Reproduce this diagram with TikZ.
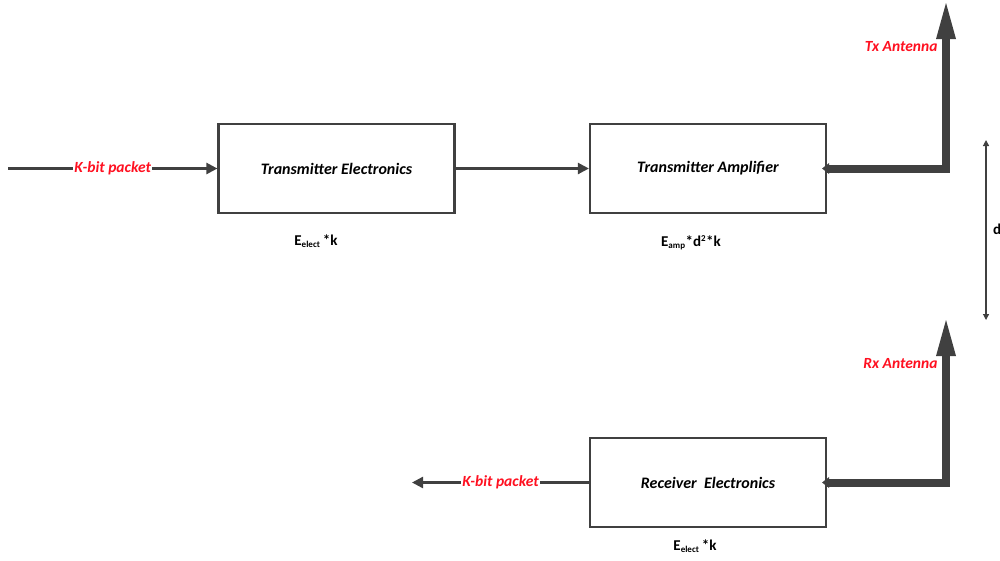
\documentclass[tikz,border=0pt]{standalone}
\usepackage{fontspec}
\setmainfont{Carlito}
\usetikzlibrary{arrows.meta,calc}
\definecolor{linegray}{HTML}{404040}
\definecolor{labelred}{HTML}{FF1020}
\begin{document}
\begin{tikzpicture}[x=1pt,y=-1pt,
  block/.style={draw=linegray,line width=2.2pt,minimum width=236pt,minimum height=89pt,
    font=\fontsize{16}{18}\selectfont\itshape\bfseries},
  thin/.style={draw=linegray,line width=2.4pt,-{Triangle[length=11pt,width=11pt]}},
  thick/.style={draw=linegray,line width=8pt,line join=miter},
  packet/.style={fill=white,inner sep=1pt,text=labelred,font=\fontsize{15.5}{17}\selectfont\itshape\bfseries},
  ant/.style={text=labelred,font=\fontsize{15.5}{17}\selectfont\itshape\bfseries,anchor=east},
  energy/.style={font=\fontsize{15}{17}\selectfont\bfseries}]
\useasboundingbox (0,0) rectangle (1000,560);
% blocks
\node[block] (te) at (336.5,168.5) {Transmitter Electronics};
\node[block] (ta) at (708,168.5) {Transmitter Amplifier};
\node[block] (re) at (708,482.5) {Receiver\ \ Electronics};
% free ends
\coordinate (in) at (8,168.5);
\coordinate (out) at (412,482.5);
\coordinate (txc) at (946,168.5);
\coordinate (txt) at (946,3);
\coordinate (rxc) at (946,482.5);
\coordinate (rxt) at (946,320);
\coordinate (dt) at (986,140);
\coordinate (db) at (986,320);
% signal path
\draw[thin] (in) -- node[packet] {K-bit packet} (te.west);
\draw[thin] (te.east) -- (ta.west);
\draw[thin] (re.west) -- node[packet] {K-bit packet} (out);
% antennas
\draw[thick] (ta.east) -- (txc) -- ($(txt)+(0,34)$);
\fill[linegray] (txt) -- ++(10,36) -- ++(-20,0) -- cycle;
\fill[linegray] ($(ta.east)+(-5,0)$) -- ++(7,-5.5) -- ++(0,11) -- cycle;
\draw[thick] (re.east) -- (rxc) -- ($(rxt)+(0,34)$);
\fill[linegray] (rxt) -- ++(10,36) -- ++(-20,0) -- cycle;
\fill[linegray] ($(re.east)+(-5,0)$) -- ++(7,-5.5) -- ++(0,11) -- cycle;
\node[ant] (txl) at (941,47) {Tx Antenna};
\node[ant] (rxl) at (941,364) {Rx Antenna};
% distance
\draw[draw=linegray,line width=1.2pt,{Triangle[length=6pt,width=6pt]}-{Triangle[length=6pt,width=6pt]}] (dt) -- (db);
\node[energy,anchor=west,inner sep=0pt] (dl) at (993,229) {d};
% energy labels
\node[energy] (e1) at (316,241) {E\textsubscript{\fontsize{9}{9}\selectfont elect}\,*k};
\node[energy] (e2) at (691,243) {E\textsubscript{\fontsize{9}{9}\selectfont amp}*d\textsuperscript{\fontsize{9}{9}\selectfont 2}*k};
\node[energy] (e3) at (695,546) {E\textsubscript{\fontsize{9}{9}\selectfont elect}\,*k};
\end{tikzpicture}
\end{document}
